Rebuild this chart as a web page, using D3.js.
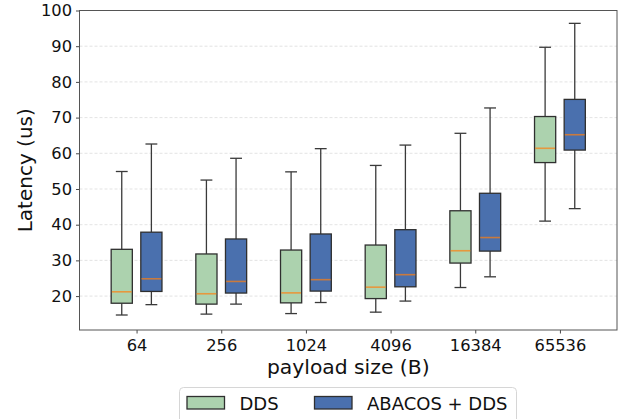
<!DOCTYPE html>
<html>
<head>
<meta charset="utf-8">
<title>latency boxplot</title>
<style>
  body { margin: 0; background: #fff; }
  svg { font-family: "DejaVu Sans", sans-serif; }
</style>
</head>
<body>
<script src="https://d3js.org/d3.v7.min.js"></script>
<script>

// payload sizes (x categories)
var sizes = ["64", "256", "1024", "4096", "16384", "65536"];

// DDS boxes
var ddsLow  = [14.7, 14.95, 15.1, 15.5, 22.4, 41.0];
var ddsQ1   = [18.0, 17.75, 18.1, 19.3, 29.25, 57.4];
var ddsMed  = [21.2, 20.65, 20.9, 22.5, 32.7, 61.4];
var ddsQ3   = [33.1, 31.8, 32.9, 34.3, 43.9, 70.3];
var ddsHigh = [54.9, 52.5, 54.8, 56.6, 65.6, 89.7];

// ABACOS + DDS boxes
var abaLow  = [17.6, 17.75, 18.2, 18.6, 25.4, 44.5];
var abaQ1   = [21.3, 20.85, 21.4, 22.6, 32.6, 60.9];
var abaMed  = [24.85, 24.1, 24.6, 26.0, 36.4, 65.2];
var abaQ3   = [37.9, 36.0, 37.4, 38.6, 48.8, 75.1];
var abaHigh = [62.6, 58.6, 61.3, 62.3, 72.7, 96.4];

var yTicks = [20, 30, 40, 50, 60, 70, 80, 90, 100];

var width = 625, height = 419;
var plotL = 79.5, plotR = 617, plotT = 10.5, plotB = 330;

var series = [
    {name: "DDS", fill: "#acd2ae", offset: -0.175,
     low: ddsLow, q1: ddsQ1, med: ddsMed, q3: ddsQ3, high: ddsHigh},
    {name: "ABACOS + DDS", fill: "#4a70ae", offset: 0.175,
     low: abaLow, q1: abaQ1, med: abaMed, q3: abaQ3, high: abaHigh}
];

var x = d3.scaleLinear().domain([-0.674, sizes.length - 1 + 0.674]).range([plotL, plotR]);
var y = d3.scaleLinear().domain([10.5, 100]).range([plotB, plotT]);

var boxW = 0.25, capW = 0.14;

var svg = d3.select("body").append("svg")
    .attr("width", width)
    .attr("height", height);

// grid
svg.append("g").selectAll("line")
    .data(yTicks)
    .enter().append("line")
    .attr("x1", plotL).attr("x2", plotR)
    .attr("y1", function (d) { return y(d); })
    .attr("y2", function (d) { return y(d); })
    .attr("stroke", "#dcdcdc")
    .attr("stroke-width", 0.8)
    .attr("stroke-dasharray", "3,2");

// boxes
series.forEach(function (s) {
    var g = svg.append("g");
    var rows = sizes.map(function (k, i) {
        return {i: i, low: s.low[i], q1: s.q1[i], med: s.med[i], q3: s.q3[i], high: s.high[i]};
    });
    var item = g.selectAll("g.box").data(rows).enter().append("g").attr("class", "box");
    var cx = function (d) { return x(d.i + s.offset); };

    // whiskers
    item.append("line")
        .attr("x1", cx).attr("x2", cx)
        .attr("y1", function (d) { return y(d.q3); })
        .attr("y2", function (d) { return y(d.high); })
        .attr("stroke", "#3a3a3a").attr("stroke-width", 1.3);
    item.append("line")
        .attr("x1", cx).attr("x2", cx)
        .attr("y1", function (d) { return y(d.q1); })
        .attr("y2", function (d) { return y(d.low); })
        .attr("stroke", "#3a3a3a").attr("stroke-width", 1.3);
    // caps
    ["high", "low"].forEach(function (k) {
        item.append("line")
            .attr("x1", function (d) { return x(d.i + s.offset - capW / 2); })
            .attr("x2", function (d) { return x(d.i + s.offset + capW / 2); })
            .attr("y1", function (d) { return y(d[k]); })
            .attr("y2", function (d) { return y(d[k]); })
            .attr("stroke", "#3a3a3a").attr("stroke-width", 1.3);
    });
    // box
    item.append("rect")
        .attr("x", function (d) { return x(d.i + s.offset - boxW / 2); })
        .attr("width", x(boxW) - x(0))
        .attr("y", function (d) { return y(d.q3); })
        .attr("height", function (d) { return y(d.q1) - y(d.q3); })
        .attr("fill", s.fill)
        .attr("stroke", "#2f2f2f").attr("stroke-width", 1.3);
    // median
    item.append("line")
        .attr("x1", function (d) { return x(d.i + s.offset - boxW / 2) + 0.7; })
        .attr("x2", function (d) { return x(d.i + s.offset + boxW / 2) - 0.7; })
        .attr("y1", function (d) { return y(d.med); })
        .attr("y2", function (d) { return y(d.med); })
        .attr("stroke", "#ff7f0e").attr("stroke-opacity", 0.7).attr("stroke-width", 1.6);
});

// axes
var yAxis = svg.append("g")
    .attr("transform", "translate(" + plotL + ",0)")
    .call(d3.axisLeft(y).tickValues(yTicks).tickSize(3.5).tickPadding(4));
var xAxis = svg.append("g")
    .attr("transform", "translate(0," + plotB + ")")
    .call(d3.axisBottom(x).tickValues(d3.range(sizes.length))
        .tickFormat(function (d) { return sizes[d]; })
        .tickSize(3.5).tickPadding(5.5));
[xAxis, yAxis].forEach(function (a) {
    a.select(".domain").remove();
    a.selectAll("line").attr("stroke", "#333").attr("stroke-width", 0.9);
    a.selectAll("text").attr("fill", "#111").style("font-size", "16.3px")
        .style("font-family", "DejaVu Sans");
});

// frame
svg.append("rect")
    .attr("x", plotL).attr("y", plotT)
    .attr("width", plotR - plotL).attr("height", plotB - plotT)
    .attr("fill", "none").attr("stroke", "#555").attr("stroke-width", 1);

// axis labels
svg.append("text")
    .attr("transform", "translate(25," + ((plotT + plotB) / 2) + ") rotate(-90)")
    .attr("text-anchor", "middle").attr("dominant-baseline", "central")
    .style("font-size", "20px").attr("fill", "#111")
    .text("Latency (us)");
svg.append("text")
    .attr("x", (plotL + plotR) / 2).attr("y", 374.3)
    .attr("text-anchor", "middle")
    .style("font-size", "20.3px").attr("fill", "#111")
    .text("payload size (B)");

// legend
var legend = svg.append("g");
legend.append("rect")
    .attr("x", 179.5).attr("y", 387.5).attr("width", 337).attr("height", 40)
    .attr("rx", 4).attr("fill", "#fff").attr("fill-opacity", 0.8)
    .attr("stroke", "#d6d6d6").attr("stroke-width", 1);
var lx = [187, 314.5];
series.forEach(function (s, i) {
    legend.append("rect")
        .attr("x", lx[i]).attr("y", 396.5).attr("width", 37.5).attr("height", 12.5)
        .attr("fill", s.fill).attr("stroke", "#2f2f2f").attr("stroke-width", 1.3);
    legend.append("text")
        .attr("x", lx[i] + 52.5).attr("y", 403)
        .attr("dominant-baseline", "central")
        .style("font-size", "18px").attr("fill", "#111")
        .text(s.name);
});

</script>
</body>
</html>
